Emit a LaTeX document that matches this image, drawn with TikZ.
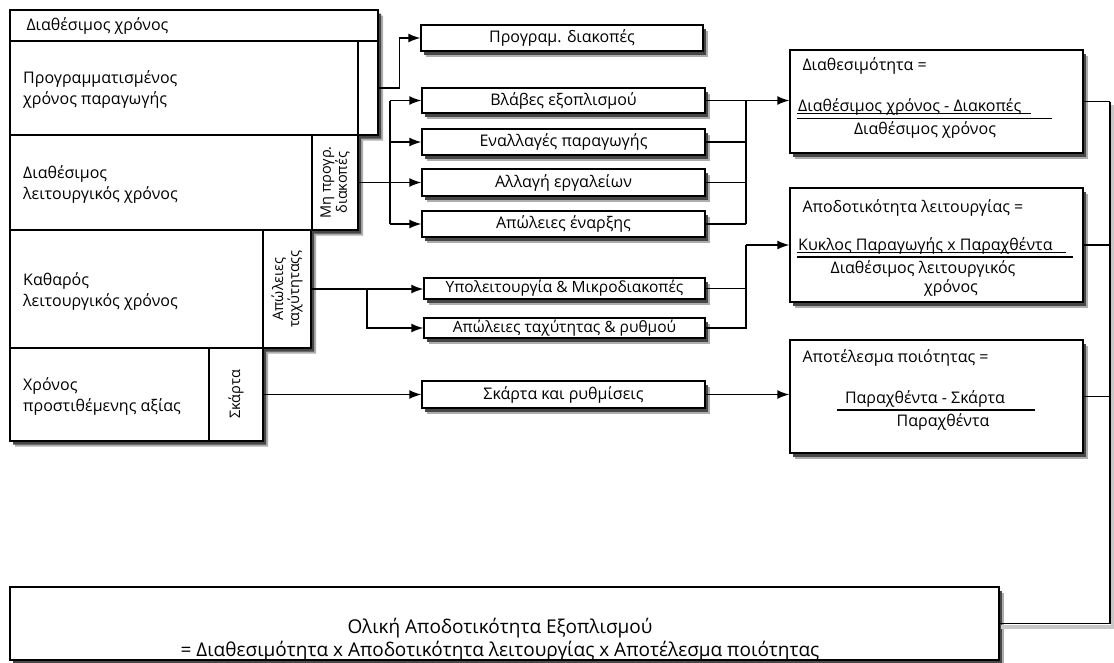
\documentclass[tikz,border=0pt]{standalone}
\usepackage{fontspec}
\setmainfont{Open Sans}
\usetikzlibrary{arrows.meta}

\definecolor{shB}{rgb}{0.68,0.68,0.68}
\definecolor{shC}{rgb}{0.28,0.28,0.28}
\definecolor{shL}{rgb}{0.78,0.78,0.78}

% box: [style]{name}{x1}{y1}{x2}{y2}, followed by the node text
\newcommand\cellbox[6][]{%
  \node[cellbase,#1,minimum width={(#5-#3)*1pt},minimum height={(#6-#4)*1pt}]
    (#2) at ({(#3+#5)/2},{(#4+#6)/2})}

\tikzset{
  txt/.style={font=\fontsize{16}{21}\selectfont},
  mid/.style={font=\fontsize{15.5}{18}\selectfont},
  rot/.style={font=\fontsize{14.5}{16}\selectfont},
  big/.style={font=\fontsize{19}{23}\selectfont},
  cellbase/.style={draw=black, line width=1.4pt, fill=white, inner sep=0pt, txt},
  lefttext/.style={align=left, inner xsep=0pt},
  conn/.style={draw=black, line width=1.4pt},
  arr/.style={conn, -{Latex[length=12pt,width=9pt]}},
  rule/.style={draw=black, line width=1.3pt},
  uline/.style={draw=black, line width=0.7pt},
}

\begin{document}
\begin{tikzpicture}[x=1pt,y=-1pt]
\useasboundingbox (0,0) rectangle (1114,662);

% ---------- drop shadows ----------
\fill[shB] (15,15.5) -- (383,15.5) -- (383,140.5) -- (363,140.5) -- (363,235.5) -- (316,235.5)
  -- (316,353.5) -- (268,353.5) -- (268,446.5) -- (15,446.5) -- cycle;
\fill[shC] (13,13.5) -- (381,13.5) -- (381,138.5) -- (361,138.5) -- (361,233.5) -- (314,233.5)
  -- (314,351.5) -- (266,351.5) -- (266,444.5) -- (13,444.5) -- cycle;
\fill[shB] (426,30.5) rectangle (708,56.5);    \fill[shC] (424,28.5) rectangle (706,54.5);
\fill[shB] (427,93.5) rectangle (710,118.5);   \fill[shC] (425,91.5) rectangle (708,116.5);
\fill[shB] (427,134.5) rectangle (710,160.5);  \fill[shC] (425,132.5) rectangle (708,158.5);
\fill[shB] (427,174.5) rectangle (710,201.5);  \fill[shC] (425,172.5) rectangle (708,199.5);
\fill[shB] (427,216.5) rectangle (710,242.5);  \fill[shC] (425,214.5) rectangle (708,240.5);
\fill[shB] (429,283.5) rectangle (710,304.5);  \fill[shC] (427,281.5) rectangle (708,302.5);
\fill[shB] (429,323.5) rectangle (710,343.5);  \fill[shC] (427,321.5) rectangle (708,341.5);
\fill[shB] (427,386.5) rectangle (710,413.5);  \fill[shC] (425,384.5) rectangle (708,411.5);
\fill[shB] (795,55.5) rectangle (1088,158.5);  \fill[shC] (793,53.5) rectangle (1086,156.5);
\fill[shB] (795,193.5) rectangle (1088,307.5); \fill[shC] (793,191.5) rectangle (1086,305.5);
\fill[shB] (795,345.5) rectangle (1088,458.5); \fill[shC] (793,343.5) rectangle (1086,456.5);
\fill[shB] (15,592.5) rectangle (1004,665.5);  \fill[shC] (13,590.5) rectangle (1002,663.5);
\draw[shL, line width=4pt] (1113,105) -- (1113,627) -- (1001,627);

% ---------- time breakdown stack ----------
\cellbox{availT}{10}{10}{378}{41}{};
\node[txt, anchor=west] (availTL) at (23,26) {Διαθέσιμος χρόνος};
\cellbox{planned}{10}{41}{358}{135}{};
\node[txt, lefttext, anchor=west] (plannedL) at (23,89) {Προγραμματισμένος\\χρόνος παραγωγής};
\cellbox{plannedstop}{358}{41}{378}{135}{};
\cellbox{opT}{10}{135}{312}{230}{};
\node[txt, lefttext, anchor=west] (opTL) at (23,184) {Διαθέσιμος\\λειτουργικός χρόνος};
\cellbox{unplanned}{312}{135}{358}{230}{};
\node[rot, rotate=90, align=center] (unplannedL) at (unplanned.center) {Μη προγρ.\\διακοπές};
\cellbox{netT}{10}{230}{263}{348}{};
\node[txt, lefttext, anchor=west] (netTL) at (23,291) {Καθαρός\\λειτουργικός χρόνος};
\cellbox{speed}{263}{230}{311}{348}{};
\node[rot, rotate=90, align=center] (speedL) at (speed.center) {Απώλειες\\ταχύτηταςς};
\cellbox{valT}{10}{348}{209}{441}{};
\node[txt, lefttext, anchor=west] (valTL) at (23,396) {Χρόνος\\προστιθέμενης αξίας};
\cellbox{scrap}{209}{348}{263}{441}{};
\node[rot, rotate=90] (scrapL) at (scrap.center) {Σκάρτα};

% ---------- loss categories ----------
\cellbox{pd}{421}{25}{703}{51}{Προγραμ. διακοπές};
\cellbox{b1}{422}{88}{705}{113}{Βλάβες εξοπλισμού};
\cellbox{b2}{422}{129}{705}{155}{Εναλλαγές παραγωγής};
\cellbox{b3}{422}{169}{705}{196}{Αλλαγή εργαλείων};
\cellbox{b4}{422}{211}{705}{237}{Απώλειες έναρξης};
\cellbox[mid]{s1}{424}{278}{705}{299}{Υπολειτουργία \& Μικροδιακοπές};
\cellbox[mid]{s2}{424}{318}{705}{338}{Απώλειες ταχύτητας \& ρυθμού};
\cellbox{q1}{422}{381}{705}{408}{Σκάρτα και ρυθμίσεις};

% ---------- ratios ----------
\cellbox{avail}{790}{50}{1083}{153}{};
\node[txt, anchor=base west] (availH) at (799,70) {Διαθεσιμότητα =};
\node[txt, anchor=base west, inner xsep=0pt] (availN) at (798,111) {Διαθέσιμος χρόνος - Διακοπές};
\draw[uline] (797,113.5) -- (1031,113.5);
\draw[rule] (797,118.5) -- (1052,118.5);
\node[txt, anchor=base] (availD) at (925,134) {Διαθέσιμος χρόνος};

\cellbox{perf}{790}{188}{1083}{302}{};
\node[txt, anchor=base west] (perfH) at (799,212) {Αποδοτικότητα λειτουργίας =};
\node[txt, anchor=base west, inner xsep=0pt] (perfN) at (798,250) {Κυκλος Παραγωγής x Παραχθέντα};
\draw[uline] (797,252.5) -- (1066,252.5);
\draw[rule] (797,257) -- (1073,257);
\node[txt, anchor=base] (perfD1) at (923,273) {Διαθέσιμος λειτουργικός};
\node[txt, anchor=base] (perfD2) at (951,292) {χρόνος};

\cellbox{qual}{790}{340}{1083}{453}{};
\node[txt, anchor=base west] (qualH) at (799,362) {Αποτέλεσμα ποιότητας =};
\node[txt, anchor=base] (qualN) at (925,403) {Παραχθέντα - Σκάρτα};
\draw[rule] (837,410) -- (1035,410);
\node[txt, anchor=base] (qualD) at (943,426) {Παραχθέντα};

% ---------- overall result ----------
\cellbox{oee}{10}{587}{999}{660}{};
\node[big, align=center] (oeeL) at (500,640) {Ολική Αποδοτικότητα Εξοπλισμού\\= Διαθεσιμότητα x Αποδοτικότητα λειτουργίας x Αποτέλεσμα ποιότητας};

% ---------- connectors ----------
\coordinate (busA) at (390,0);
\coordinate (busB) at (746,0);
\coordinate (busC) at (367,0);
\coordinate (busD) at (1110,0);

% planned stops
\draw[arr] (plannedstop.east) -- ++(21,0) |- (pd.west);

% unplanned stops fan out ...
\draw[conn] (unplanned.east) -- (unplanned.east -| busA);
\draw[conn] (busA |- b1.west) -- (busA |- b4.west);
\foreach \b in {b1,b2,b3,b4} {\draw[arr] (busA |- \b.west) -- (\b.west);}

% ... and gather into availability
\foreach \b in {b1,b2,b3,b4} {\draw[conn] (\b.east) -- (\b.east -| busB);}
\draw[conn] (busB |- b1.east) -- (busB |- b4.east);
\draw[arr] (busB |- b1.east) -- (avail.west |- b1.east);

% speed losses
\draw[arr] (speed.east) -- (speed.east -| s1.west);
\draw[arr] (speed.east -| busC) |- (s2.west);
\draw[conn] (s1.east) -- (s1.east -| busB);
\draw[conn] (s2.east) -- (s2.east -| busB) -- (busB |- perf.west);
\draw[arr] (busB |- perf.west) -- (perf.west);

% quality losses
\draw[arr] (scrap.east) -- (scrap.east -| q1.west);
\draw[arr] (q1.east) -- (q1.east -| qual.west);

% ratios into the overall figure
\foreach \r in {avail,perf,qual} {\draw[conn] (\r.east) -- (\r.east -| busD);}
\draw[conn] (busD |- avail.east) -- (busD |- oee.east) -- (oee.east);
\end{tikzpicture}
\end{document}
